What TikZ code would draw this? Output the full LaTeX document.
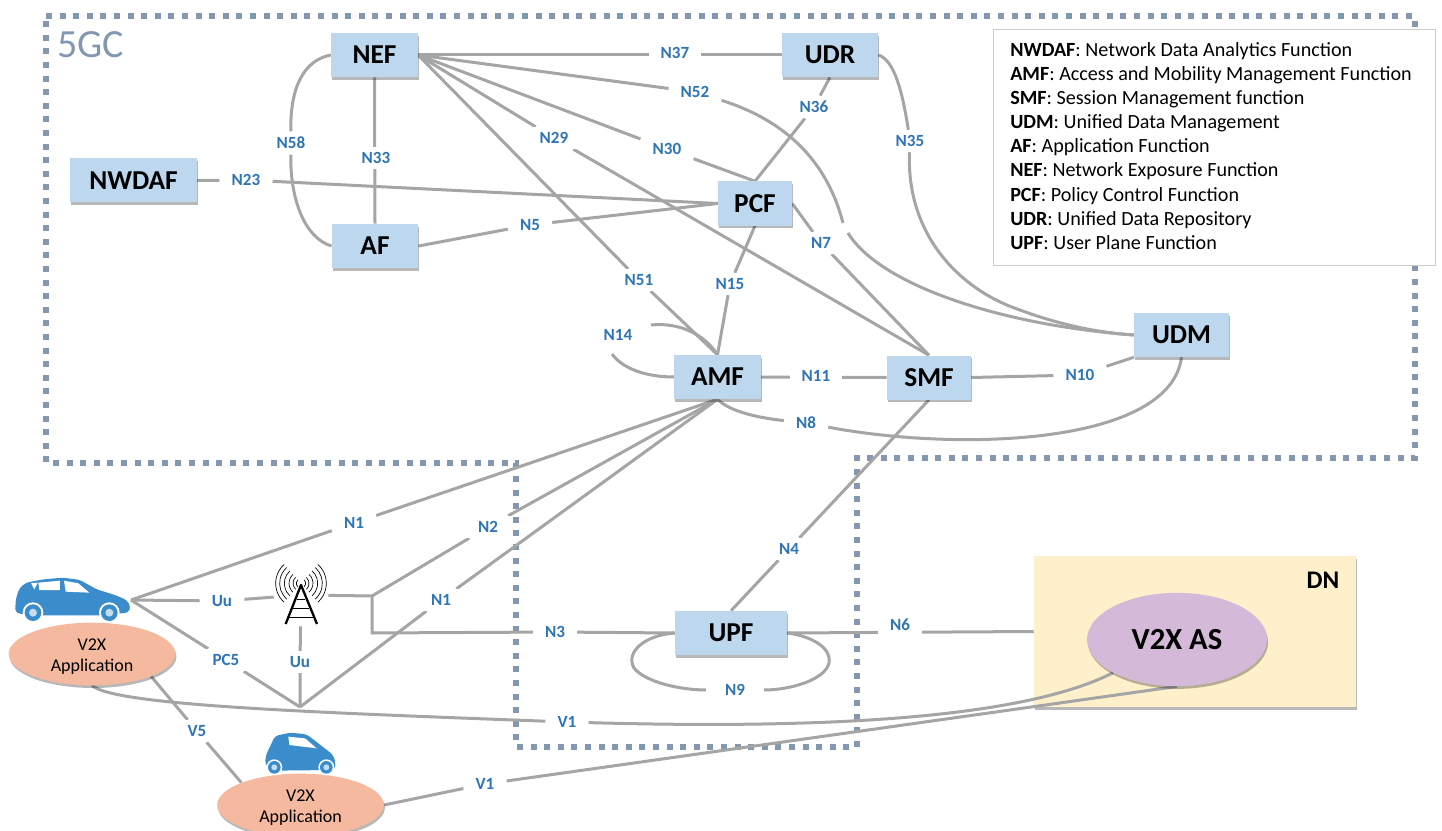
\documentclass[tikz,border=0pt]{standalone}
\usepackage{fontspec}
\setmainfont{Carlito}
\usetikzlibrary{shapes.geometric,shadows,backgrounds}
\definecolor{linkGray}{HTML}{A5A5A5}
\definecolor{boxBlue}{HTML}{BDD7EE}
\definecolor{labelBlue}{HTML}{2E75B6}
\definecolor{carBlue}{HTML}{3A8CCB}
\definecolor{dotBlue}{HTML}{8497B0}
\definecolor{appPeach}{HTML}{F4B99E}
\definecolor{asPurple}{HTML}{D5B9D9}
\definecolor{dnYellow}{HTML}{FDF0CB}
\def\boxH{33pt}
\def\dotW{4.5pt}
\tikzset{
	softshadow/.style={drop shadow={shadow xshift=0.8pt,shadow yshift=-2pt,opacity=0.28,fill=black}},
	nfbox/.style={fill=boxBlue,minimum height=\boxH,inner sep=0pt,softshadow,font=\fontsize{20.5}{24}\selectfont\bfseries},
	lbl/.style={fill=white,text=labelBlue,inner xsep=9pt,inner ysep=4pt,font=\fontsize{12.8}{15}\selectfont\bfseries},
	link/.style={draw=linkGray,line width=2.25pt,line join=round},
	dots/.style={draw=dotBlue,line width=\dotW,dash pattern=on \dotW off 5.7pt},
	appell/.style={ellipse,fill=appPeach,minimum width=125pt,minimum height=47pt,inner sep=0pt,align=center,softshadow,font=\fontsize{13.5}{16}\selectfont}
}
\begin{document}
\begin{tikzpicture}[x=0.75pt,y=-0.75pt]
	\useasboundingbox (0,0) rectangle (1442,831);

	%5GC outline and data network go under the links
	\begin{pgfonlayer}{background}
		\draw[dots] (46,16) -- (1415,16) -- (1415,458) -- (857,458) -- (857,747) -- (516,747) -- (516,463) -- (46,463) -- cycle;
		\node[fill=dnYellow,minimum width=241.5pt,minimum height=113pt,inner sep=0pt,softshadow] (dn) at (1195,631.5) {};
	\end{pgfonlayer}
	\node[text=dotBlue,font=\fontsize{30}{34}\selectfont,anchor=west,inner sep=0pt] (core) at (57,45) {5GC};
	\node[font=\fontsize{19}{22}\selectfont\bfseries,inner sep=0pt] (dnname) at (1323,580) {DN};

	%network functions
	\node[nfbox,minimum width=65pt] (nef) at (374.5,55) {NEF};
	\node[nfbox,minimum width=72pt] (udr) at (830,55) {UDR};
	\node[nfbox,minimum width=95pt] (nwdaf) at (133.5,180.5) {NWDAF};
	\node[nfbox,minimum width=55.5pt] (pcf) at (755,203.5) {PCF};
	\node[nfbox,minimum width=65pt] (af) at (375,246) {AF};
	\node[nfbox,minimum width=65pt] (amf) at (717.5,377) {AMF};
	\node[nfbox,minimum width=63pt] (smf) at (929,377.5) {SMF};
	\node[nfbox,minimum width=71pt] (udm) at (1181.5,335) {UDM};
	\node[nfbox,minimum width=84pt] (upf) at (731,633) {UPF};

	%applications and server
	\node[ellipse,fill=asPurple,minimum width=135pt,minimum height=70pt,inner sep=0pt,softshadow,font=\fontsize{23}{27}\selectfont\bfseries] (as) at (1177,639.5) {V2X AS};
	\node[appell] (appa) at (92,654) {\rule{0pt}{13pt}V2X\\Application};
	\node[appell] (appb) at (300.5,805) {\rule{0pt}{13pt}V2X\\Application};

	%legend
	\node[draw=black!20,fill=white,line width=0.8pt,minimum width=332pt,minimum height=177.5pt,inner sep=0pt] (legend) at (1214.5,147.5) {};
	\node[anchor=north west,align=left,inner sep=0pt,font=\fontsize{15.1}{18.1}\selectfont] (legendtext) at (1010,42) {\textbf{NWDAF}: Network Data Analytics Function\\
		\textbf{AMF}: Access and Mobility Management Function\\
		\textbf{SMF}: Session Management function\\
		\textbf{UDM}: Unified Data Management\\
		\textbf{AF}: Application Function\\
		\textbf{NEF}: Network Exposure Function\\
		\textbf{PCF}: Policy Control Function\\
		\textbf{UDR}: Unified Data Repository\\
		\textbf{UPF}: User Plane Function};

	%interface labels
	\foreach \n/\x/\y/\t in {n37/675/53/N37, n52/695/92/N52, n29/554/138/N29, n30/667/149/N30, n36/814/107/N36,
		n35/910/141/N35, n58/291/143/N58, n33/376/158/N33, n23/246/180/N23, n5/530/225/N5, n7/821/243/N7,
		n51/639/280/N51, n15/730/284/N15, n14/618/335/N14, n11/816/376/N11, n10/1080/375/N10, n8/806/423/N8,
		n1a/354/523/N1, n2/488/527/N2, n4/789/549/N4, n1b/441/600/N1, n3/555/632/N3, n6/900/625/N6,
		uua/222/601/Uu, uub/300/662/Uu, pc5/226/660/PC5, v1a/567/722/V1, v1b/485/784/V1, v5/197/731/V5}
		\node[lbl] (\n) at (\x,\y) {\t};
		; %end for \n
	\node[lbl,inner xsep=14pt] (n9) at (735,690) {N9};

	%free ends of the links
	\node[minimum width=40.5pt,minimum height=46.5pt,inner sep=0pt] (tower) at (301,595) {};
	\coordinate (carfront) at (131,600);
	\coordinate (split) at (372,596);
	\coordinate (corner) at (372,633);
	\coordinate (meet) at (300,707);
	\coordinate (bendtop) at (843,223);
	\coordinate (bendlow) at (848,233);
	\coordinate (looptop) at (651,325);
	\coordinate (looplow) at (612,354);

	%links
	\begin{pgfonlayer}{background}
		\draw[link] (nef.east) -- (udr.west);
		\draw[link] (nef.east) -- (n29) -- (smf.north);
		\draw[link] (nef.east) -- (n30) -- (pcf.north);
		\draw[link] (nef.east) -- (n51) -- (amf.north);
		\draw[link] (nef.east) -- (n52);
		\draw[link] (n52) .. controls (790,122) and (828,165) .. (bendtop);
		\draw[link] (bendlow) .. controls (880,285) and (1000,325) .. (udm.west);
		\draw[link] (udr.east) .. controls (895,60) and (903,95) .. (n35);
		\draw[link] (n35) .. controls (906,235) and (960,290) .. (1020,310) .. controls (1060,325) and (1100,333) .. (udm.west);
		\draw[link] (nef.west) .. controls (305,60) and (290,85) .. (n58);
		\draw[link] (n58) .. controls (290,200) and (305,238) .. (af.west);
		\draw[link] (nef.south) -- (af.north);
		\draw[link] (nwdaf.east) -- (n23) -- (pcf.west);
		\draw[link] (af.east) -- (n5) -- (pcf.west);
		\draw[link] (pcf.north) -- (n36) -- (udr.south);
		\draw[link] (pcf.east) -- (n7) -- (smf.north);
		\draw[link] (pcf.south) -- (n15) -- (amf.north);
		\draw[link] (amf.north) .. controls (705,335) and (680,322) .. (looptop);
		\draw[link] (looplow) .. controls (622,368) and (645,377) .. (amf.west);
		\draw[link] (amf.east) -- (smf.west);
		\draw[link] (smf.east) -- (n10) -- (udm.south west);
		\draw[link] (amf.south) .. controls (730,412) and (760,418) .. (n8);
		\draw[link] (n8) .. controls (960,452) and (1170,445) .. (udm.south);
		\draw[link] (smf.south) -- (n4) -- (upf.north);
		\draw[link] (amf.south) -- (n1a) -- (carfront);
		\draw[link] (amf.south) -- (n2) -- (split);
		\draw[link] (amf.south) -- (n1b) -- (meet);
		\draw[link] (carfront) -- (uua) -- (tower);
		\draw[link] (tower) -- (split) -- (corner) -- (n3) -- (upf.west);
		\draw[link] (carfront) -- (pc5) -- (meet);
		\draw[link] (tower) -- (uub) -- (meet);
		\draw[link] (upf.west) .. controls (645,635) and (625,652) .. (634,668) .. controls (645,682) and (680,690) .. (n9);
		\draw[link] (n9) .. controls (790,690) and (825,680) .. (829,663) .. controls (832,645) and (805,635) .. (upf.east);
		\draw[link] (upf.east) -- (dn.west);
		\draw[link] (appa.south) .. controls (115,705) and (300,712) .. (v1a);
		\draw[link] (v1a) .. controls (850,730) and (1030,715) .. (as.south west);
		\draw[link] (appb.east) -- (v1b) -- (as.south);
		\draw[link] (appa.south east) -- (v5) -- (appb.north west);
	\end{pgfonlayer}

	%radio tower
	\begin{scope}[shift={(0,540)},scale=1/3]
		\foreach \r in {14,24,36,50,64,76} {
			\draw[black,line width=0.5pt] (903,130) ++(-48:\r) arc (-48:48:\r);
			\draw[black,line width=0.5pt] (903,130) ++(132:\r) arc (132:228:\r);
		}
		\draw[black,line width=1.7pt,line join=round] (857,252) -- (903,135) -- (951,252);
		\foreach \yy/\w in {178/12,205/23,232/36}
			\draw[black,line width=1pt] (903-\w,\yy) -- (903+\w,\yy);
			; %end for \yy
	\end{scope}

	%first car
	\begin{scope}[shift={(0,540)},scale=1/3]
		\fill[carBlue,rounded corners=2.5pt] (45,215) -- (48,175) -- (58,145) -- (78,128) -- (130,118) -- (190,113) -- (240,120) -- (290,148) -- (345,165) -- (380,180) -- (392,200) -- (385,218) -- (300,226) -- (130,226) -- (60,222) -- cycle;
		\fill[white] (115,128) -- (180,122) -- (180,150) -- (118,150) -- cycle;
		\fill[white] (192,122) -- (235,130) -- (268,158) -- (197,155) -- cycle;
		\fill[white] (93,130) -- (113,128) -- (103,148) -- cycle;
		\foreach \cx/\cy in {99/218,328/218} {
			\fill[white] (\cx,\cy) circle (31);
			\fill[carBlue] (\cx,\cy) circle (25);
			\fill[white!70!carBlue] (\cx,\cy) circle (12);
		}
	\end{scope}

	%second car
	\begin{scope}[shift={(0,540)},scale=1/3]
		\fill[carBlue,rounded corners=2.5pt] (795,672) -- (798,645) -- (825,588) -- (870,578) -- (920,583) -- (1000,645) -- (1008,675) -- (1000,690) -- (815,692) -- cycle;
		\fill[white] (865,590) -- (915,595) -- (950,625) -- (868,615) -- cycle;
		\foreach \cx/\cy in {823/682,979/682} {
			\fill[white] (\cx,\cy) circle (24);
			\fill[carBlue] (\cx,\cy) circle (19);
			\fill[white!70!carBlue] (\cx,\cy) circle (9);
		}
	\end{scope}
\end{tikzpicture}
\end{document}
